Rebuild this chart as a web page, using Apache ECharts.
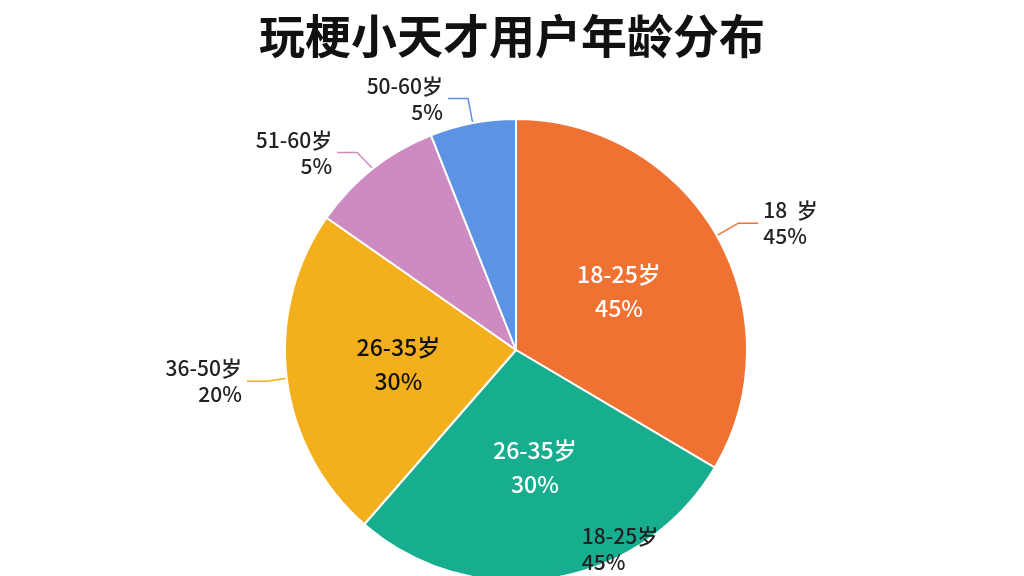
<!DOCTYPE html>
<html><head><meta charset="utf-8">
<script src="https://cdn.jsdelivr.net/npm/echarts@6/dist/echarts.min.js"></script>
<style>html,body{margin:0;background:#fff}#c{width:1024px;height:576px}</style>
</head><body><div id="c"></div>
<script>
const categories = ['18-25岁','26-35岁','36-50岁','51-60岁','60岁以上'];
const values = [33.5, 27.9, 23.3, 9.3, 6.0];
const innerLabels = ['18-25岁\n45%','26-35岁\n30%','26-35岁\n30%','',''];
const outerLabels = ['18  岁\n45%','18-25岁\n45%','36-50岁\n20%','51-60岁\n5%','50-60岁\n5%'];
const colors = ['#F07232','#16AE8F','#F4AF1C','#CD8BC2','#5C93E2'];

const chart = echarts.init(document.getElementById('c'));
const base = {
  type:'pie', center:[516,350], radius:[0,231], startAngle:90, clockwise:true,
  itemStyle:{borderColor:'#fff',borderWidth:2}, animation:false
};
chart.setOption({
  backgroundColor:'#fff',
  color: colors,
  title:{text:'玩梗小天才用户年龄分布',left:'center',top:8,
    textStyle:{fontSize:46,fontWeight:'bold',color:'#111',fontFamily:'Noto Sans CJK SC'}},
  series:[
    Object.assign({}, base, {
      data: categories.map((c,i)=>({name:c,value:values[i]})),
      label:{show:true,position:'outside',formatter:p=>outerLabels[p.dataIndex],
        fontSize:21,fontWeight:500,color:'#222',lineHeight:26,fontFamily:'Noto Sans CJK SC'},
      labelLine:{show:true,length:25,length2:20,lineStyle:{width:1.5}}
    }),
    Object.assign({}, base, {
      data: categories.map((c,i)=>({name:c,value:values[i],label:{color: i===2?'#111':'#fff'}})),
      label:{show:true,position:'inside',formatter:p=>innerLabels[p.dataIndex],
        fontSize:23,fontWeight:500,lineHeight:34,fontFamily:'Noto Sans CJK SC',color:'#fff'},
      labelLine:{show:false},
      silent:true
    })
  ]
});
</script></body></html>
